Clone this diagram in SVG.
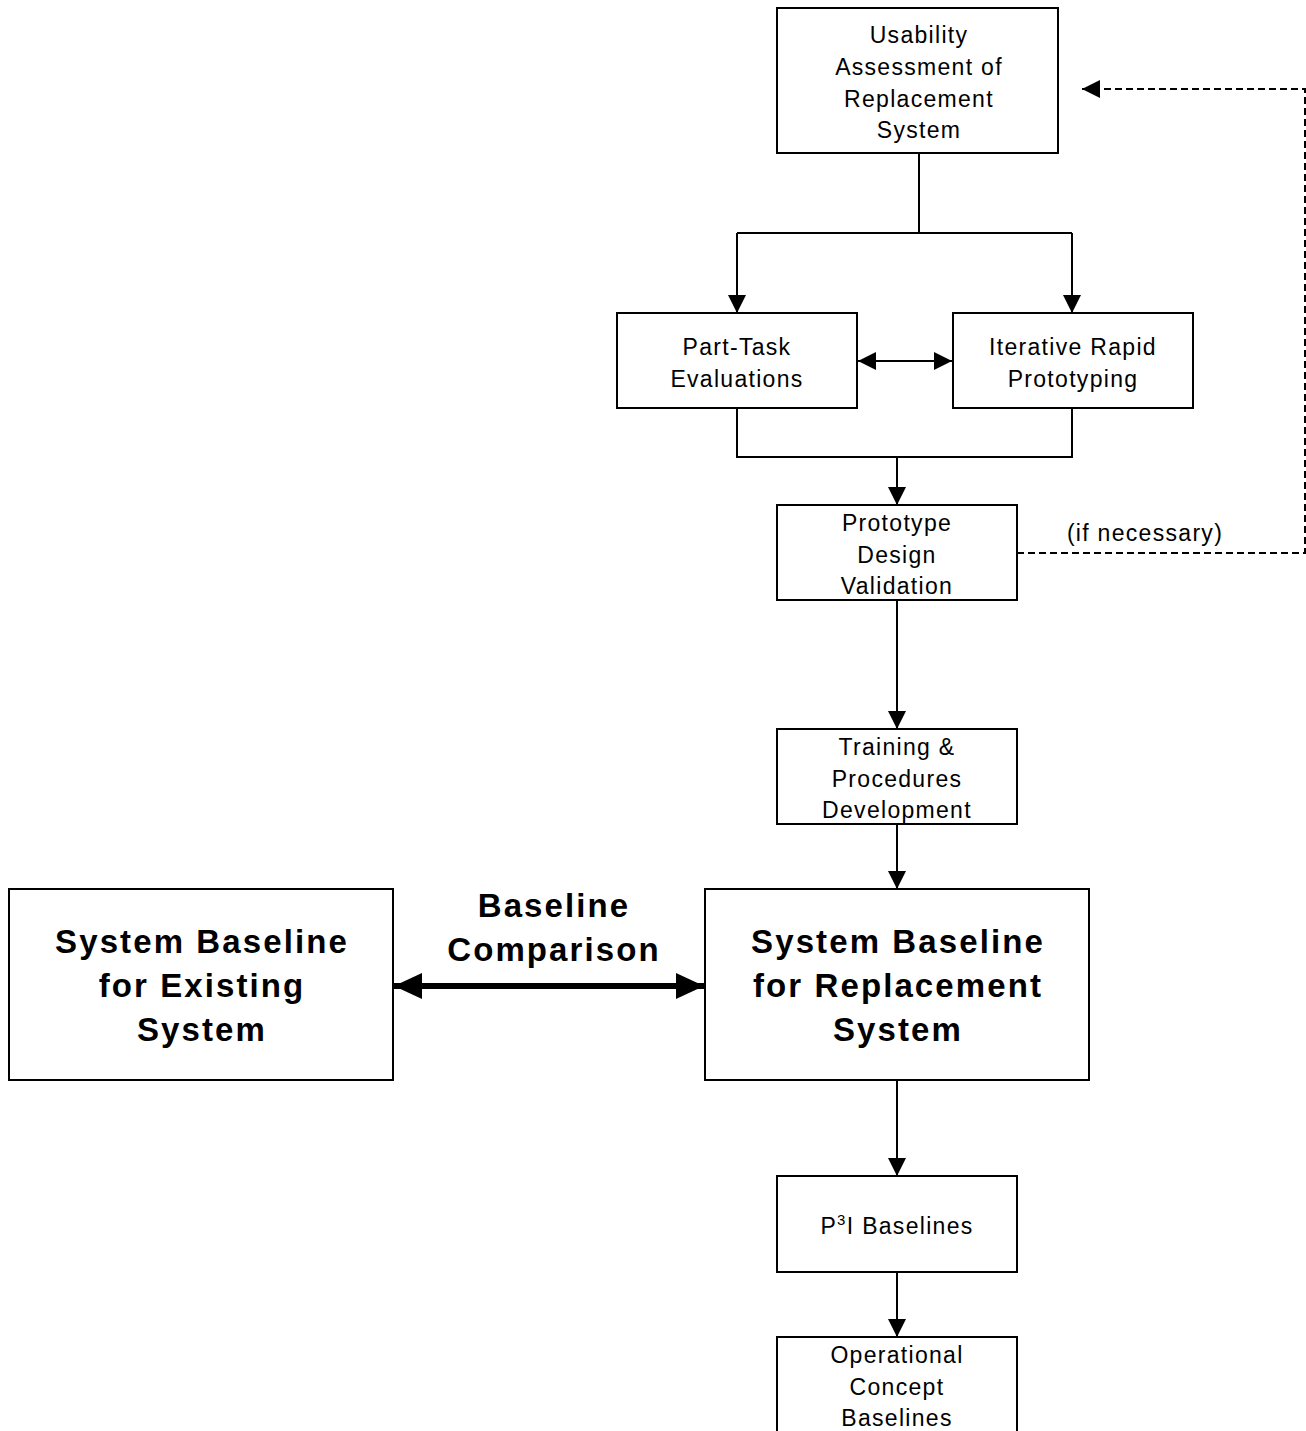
<svg xmlns="http://www.w3.org/2000/svg" width="1306" height="1431" viewBox="0 0 1306 1431">
<defs>
<marker id="arr" viewBox="0 0 18 18" refX="18" refY="9" markerWidth="18" markerHeight="18" markerUnits="userSpaceOnUse" orient="auto-start-reverse"><path d="M0,0 L18,9 L0,18 z" fill="#000"/></marker>
<marker id="arrBig" viewBox="0 0 28 26" refX="28" refY="13" markerWidth="28" markerHeight="26" markerUnits="userSpaceOnUse" orient="auto-start-reverse"><path d="M0,0 L28,13 L0,26 z" fill="#000"/></marker>
</defs>
<style>
.box{fill:#fff;stroke:#000;stroke-width:2}
.t{font-family:"Liberation Sans",Arial,sans-serif;font-size:23px;letter-spacing:1.3px;text-anchor:middle;fill:#000}
.b{font-family:"Liberation Sans",Arial,sans-serif;font-size:33px;font-weight:bold;letter-spacing:2.1px;text-anchor:middle;fill:#000}
.c{fill:none;stroke:#000;stroke-width:2}
.d{fill:none;stroke:#000;stroke-width:2;stroke-dasharray:7 4}
</style>
<rect width="1306" height="1431" fill="#fff"/>
<g id="connectors">
<path class="c" d="M919,153 V233 M737,233 H1072"/>
<path class="c" d="M737,233 V313" marker-end="url(#arr)"/>
<path class="c" d="M1072,233 V313" marker-end="url(#arr)"/>
<path class="c" d="M858,361 H952" marker-start="url(#arr)" marker-end="url(#arr)"/>
<path class="c" d="M737,408 V457 H1072 V408"/>
<path class="c" d="M897,457 V505" marker-end="url(#arr)"/>
<path class="d" d="M1017,553 H1305 V89 H1082" marker-end="url(#arr)"/>
<path class="c" d="M897,600 V729" marker-end="url(#arr)"/>
<path class="c" d="M897,824 V889" marker-end="url(#arr)"/>
<path fill="none" stroke="#000" stroke-width="6" d="M394,986 H704" marker-start="url(#arrBig)" marker-end="url(#arrBig)"/>
<path class="c" d="M897,1080 V1176" marker-end="url(#arr)"/>
<path class="c" d="M897,1272 V1337" marker-end="url(#arr)"/>
<text class="t" x="1145" y="541">(if necessary)</text>
<text class="b" x="554" y="917">Baseline</text>
<text class="b" x="554" y="961">Comparison</text>
</g>
<g id="usability">
<rect class="box" x="777" y="8" width="281" height="145"/>
<text class="t" x="919" y="43">Usability</text>
<text class="t" x="919" y="75">Assessment of</text>
<text class="t" x="919" y="107">Replacement</text>
<text class="t" x="919" y="138">System</text>
</g>
<g id="parttask">
<rect class="box" x="617" y="313" width="240" height="95"/>
<text class="t" x="737" y="355">Part-Task</text>
<text class="t" x="737" y="387">Evaluations</text>
</g>
<g id="iterative">
<rect class="box" x="953" y="313" width="240" height="95"/>
<text class="t" x="1073" y="355">Iterative Rapid</text>
<text class="t" x="1073" y="387">Prototyping</text>
</g>
<g id="prototype">
<rect class="box" x="777" y="505" width="240" height="95"/>
<text class="t" x="897" y="531">Prototype</text>
<text class="t" x="897" y="563">Design</text>
<text class="t" x="897" y="594">Validation</text>
</g>
<g id="training">
<rect class="box" x="777" y="729" width="240" height="95"/>
<text class="t" x="897" y="755">Training &amp;</text>
<text class="t" x="897" y="787">Procedures</text>
<text class="t" x="897" y="818">Development</text>
</g>
<g id="existing">
<rect class="box" x="9" y="889" width="384" height="191"/>
<text class="b" x="202" y="953">System Baseline</text>
<text class="b" x="202" y="997">for Existing</text>
<text class="b" x="202" y="1041">System</text>
</g>
<g id="replacement">
<rect class="box" x="705" y="889" width="384" height="191"/>
<text class="b" x="898" y="953">System Baseline</text>
<text class="b" x="898" y="997">for Replacement</text>
<text class="b" x="898" y="1041">System</text>
</g>
<g id="p3i">
<rect class="box" x="777" y="1176" width="240" height="96"/>
<text class="t" x="897" y="1234">P<tspan font-size="15" dy="-9">3</tspan><tspan dy="9">I Baselines</tspan></text>
</g>
<g id="operational">
<rect class="box" x="777" y="1337" width="240" height="100"/>
<text class="t" x="897" y="1363">Operational</text>
<text class="t" x="897" y="1395">Concept</text>
<text class="t" x="897" y="1426">Baselines</text>
</g>
</svg>
